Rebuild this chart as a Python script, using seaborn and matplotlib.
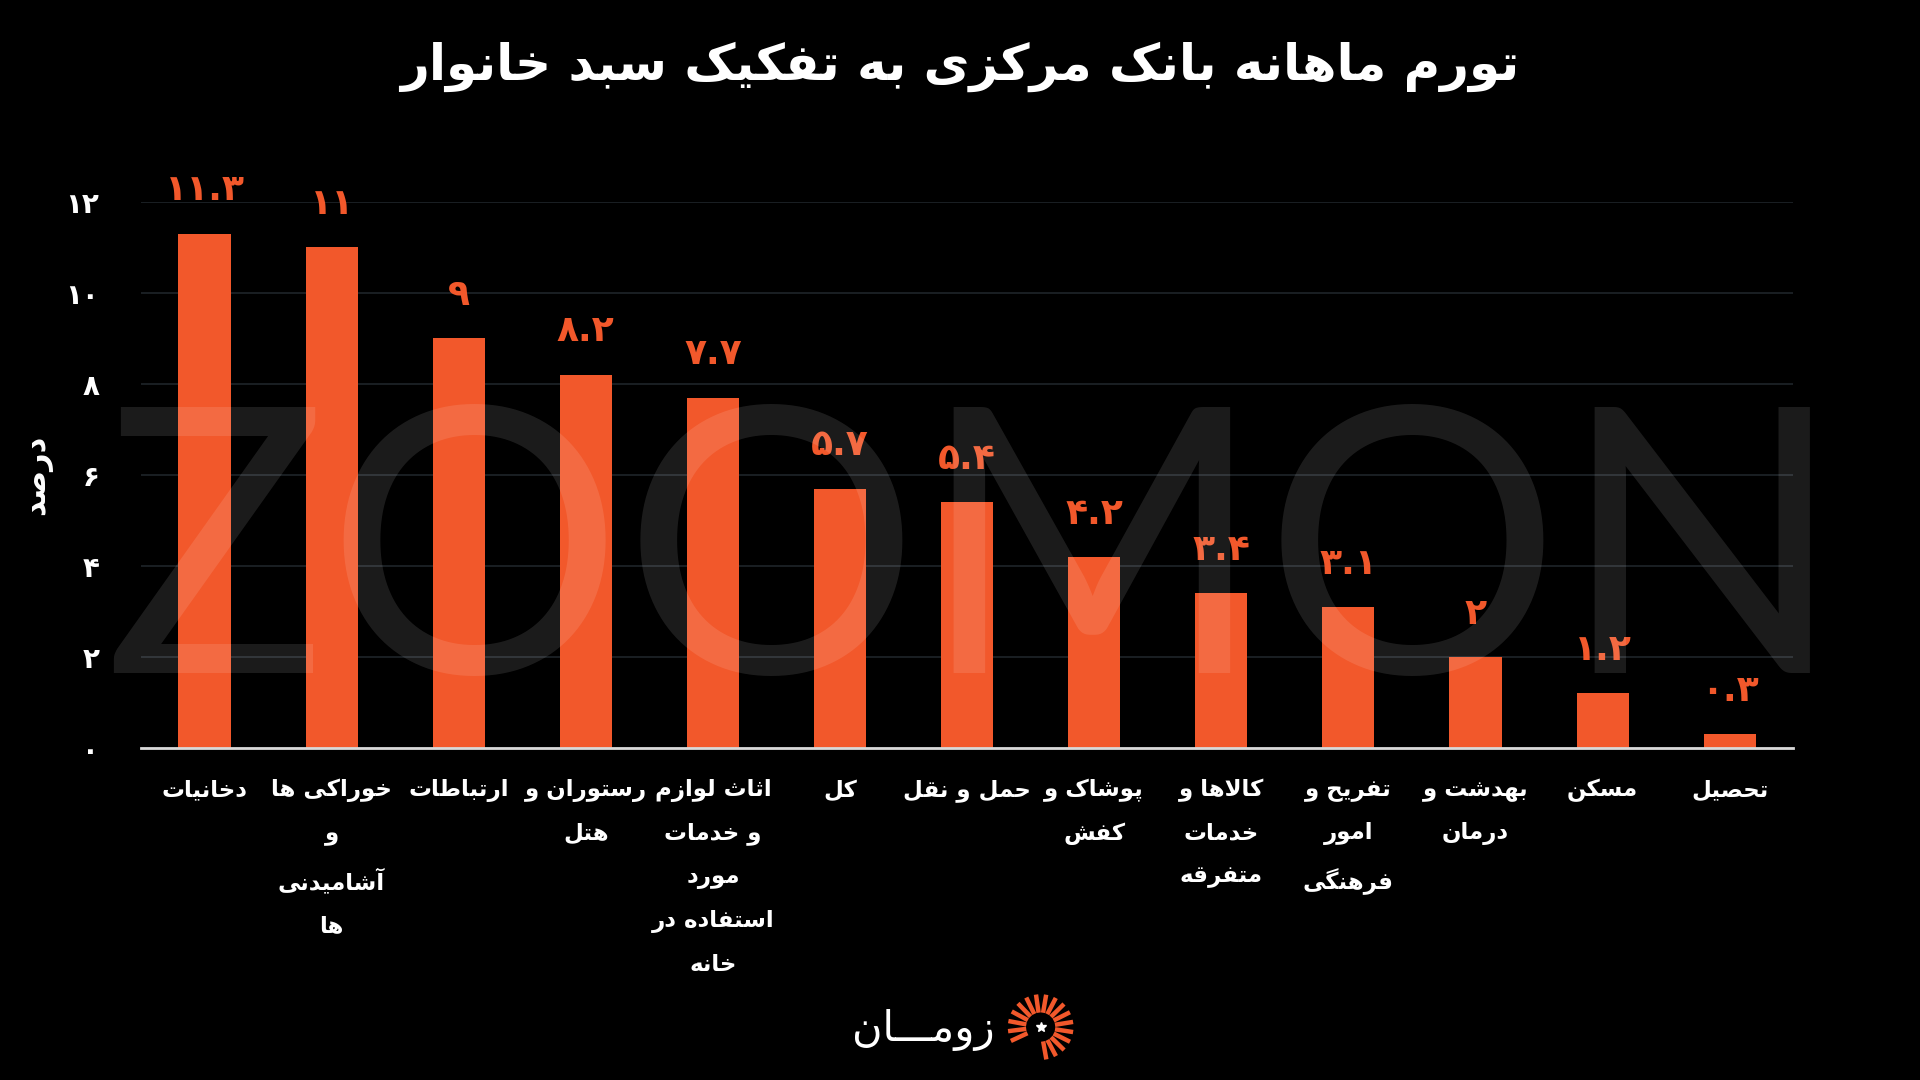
import numpy as np
import pandas as pd
import matplotlib
matplotlib.use("Agg")
import matplotlib.pyplot as plt
import seaborn as sns

# ---------------- data ----------------
categories = [
    "دخانیات",
    "خوراکی ها\nو\nآشامیدنی\nها",
    "ارتباطات",
    "رستوران و\nهتل",
    "اثاث لوازم\nو خدمات\nمورد\nاستفاده در\nخانه",
    "کل",
    "حمل و نقل",
    "پوشاک و\nکفش",
    "کالاها و\nخدمات\nمتفرقه",
    "تفریح و\nامور\nفرهنگی",
    "بهدشت و\nدرمان",
    "مسکن",
    "تحصیل",
]
values = [11.3, 11, 9, 8.2, 7.7, 5.7, 5.4, 4.2, 3.4, 3.1, 2, 1.2, 0.3]
y_ticks = [0, 2, 4, 6, 8, 10, 12]
title_text = "تورم ماهانه بانک مرکزی به تفکیک سبد خانوار"
y_label_text = "درصد"
watermark_text = "ZOOMON"
brand_text = "زومـــان"

BAR_COLOR = "#F2582B"
BG = "#000000"

# ---------------- simple Arabic/Persian shaping ----------------
FORMS = {
    '\u0627': ('\uFE8D', '\uFE8E', None, None),
    '\u0622': ('\uFE81', '\uFE82', None, None),
    '\u0628': ('\uFE8F', '\uFE90', '\uFE91', '\uFE92'),
    '\u067E': ('\uFB56', '\uFB57', '\uFB58', '\uFB59'),
    '\u062A': ('\uFE95', '\uFE96', '\uFE97', '\uFE98'),
    '\u062B': ('\uFE99', '\uFE9A', '\uFE9B', '\uFE9C'),
    '\u062C': ('\uFE9D', '\uFE9E', '\uFE9F', '\uFEA0'),
    '\u0686': ('\uFB7A', '\uFB7B', '\uFB7C', '\uFB7D'),
    '\u062D': ('\uFEA1', '\uFEA2', '\uFEA3', '\uFEA4'),
    '\u062E': ('\uFEA5', '\uFEA6', '\uFEA7', '\uFEA8'),
    '\u062F': ('\uFEA9', '\uFEAA', None, None),
    '\u0630': ('\uFEAB', '\uFEAC', None, None),
    '\u0631': ('\uFEAD', '\uFEAE', None, None),
    '\u0632': ('\uFEAF', '\uFEB0', None, None),
    '\u0698': ('\uFB8A', '\uFB8B', None, None),
    '\u0633': ('\uFEB1', '\uFEB2', '\uFEB3', '\uFEB4'),
    '\u0634': ('\uFEB5', '\uFEB6', '\uFEB7', '\uFEB8'),
    '\u0635': ('\uFEB9', '\uFEBA', '\uFEBB', '\uFEBC'),
    '\u0636': ('\uFEBD', '\uFEBE', '\uFEBF', '\uFEC0'),
    '\u0637': ('\uFEC1', '\uFEC2', '\uFEC3', '\uFEC4'),
    '\u0638': ('\uFEC5', '\uFEC6', '\uFEC7', '\uFEC8'),
    '\u0639': ('\uFEC9', '\uFECA', '\uFECB', '\uFECC'),
    '\u063A': ('\uFECD', '\uFECE', '\uFECF', '\uFED0'),
    '\u0641': ('\uFED1', '\uFED2', '\uFED3', '\uFED4'),
    '\u0642': ('\uFED5', '\uFED6', '\uFED7', '\uFED8'),
    '\u0643': ('\uFED9', '\uFEDA', '\uFEDB', '\uFEDC'),
    '\u06A9': ('\uFB8E', '\uFB8F', '\uFB90', '\uFB91'),
    '\u06AF': ('\uFB92', '\uFB93', '\uFB94', '\uFB95'),
    '\u0644': ('\uFEDD', '\uFEDE', '\uFEDF', '\uFEE0'),
    '\u0645': ('\uFEE1', '\uFEE2', '\uFEE3', '\uFEE4'),
    '\u0646': ('\uFEE5', '\uFEE6', '\uFEE7', '\uFEE8'),
    '\u0647': ('\uFEE9', '\uFEEA', '\uFEEB', '\uFEEC'),
    '\u0648': ('\uFEED', '\uFEEE', None, None),
    '\u064A': ('\uFEF1', '\uFEF2', '\uFEF3', '\uFEF4'),
    '\u06CC': ('\uFBFC', '\uFBFD', '\uFBFE', '\uFBFF'),
    '\u0640': ('\u0640', '\u0640', '\u0640', '\u0640'),
}
LAM_ALEF = {'\u0627': ('\uFEFB', '\uFEFC'), '\u0622': ('\uFEF5', '\uFEF6')}


def _dual(c):
    return c in FORMS and FORMS[c][2] is not None


def shape_line(s):
    chars = list(s)
    n = len(chars)
    res = []
    i = 0
    while i < n:
        c = chars[i]
        if c not in FORMS:
            res.append(c)
            i += 1
            continue
        prev = chars[i - 1] if i > 0 else None
        cp = prev is not None and _dual(prev)
        if c == '\u0644' and i + 1 < n and chars[i + 1] in LAM_ALEF:
            lig = LAM_ALEF[chars[i + 1]]
            res.append(lig[1] if cp else lig[0])
            i += 2
            continue
        nxt = chars[i + 1] if i + 1 < n else None
        cn = _dual(c) and nxt is not None and nxt in FORMS
        f = FORMS[c]
        if cp and cn:
            g = f[3]
        elif cp:
            g = f[1]
        elif cn:
            g = f[2]
        else:
            g = f[0]
        res.append(g)
        i += 1
    return ''.join(reversed(res))


def fa(s):
    return '\n'.join(shape_line(line) for line in s.split('\n'))


FA_DIGITS = str.maketrans('0123456789', '۰۱۲۳۴۵۶۷۸۹')


def fa_num(v):
    return f"{v:g}".translate(FA_DIGITS)


# ---------------- plot ----------------
sns.set_theme(style="dark")
plt.rcParams['font.family'] = ['DejaVu Sans']
plt.rcParams['figure.facecolor'] = BG
plt.rcParams['axes.facecolor'] = BG

fig = plt.figure(figsize=(19.2, 10.8), dpi=100)
fig.patch.set_facecolor(BG)
ax = fig.add_axes([0.0734, 0.3074, 0.8606, 0.5056])
ax.set_facecolor(BG)

df = pd.DataFrame({"cat": [fa(c) for c in categories], "val": values})
sns.barplot(data=df, x="cat", y="val", color=BAR_COLOR, saturation=1,
            width=0.41, linewidth=0, edgecolor=BAR_COLOR, ax=ax, zorder=3)

ax.set_xlim(-0.5, len(values) - 0.5)
ax.set_ylim(0, 12)
ax.set_yticks(y_ticks)
ax.set_yticklabels([fa_num(t) for t in y_ticks], color="white",
                   fontsize=20, fontweight="bold")
ax.tick_params(axis="y", length=0, pad=30)
ax.tick_params(axis="x", length=0, pad=22)
for lbl in ax.get_xticklabels():
    lbl.set_color("white")
    lbl.set_fontsize(16.5)
    lbl.set_fontweight("bold")
    lbl.set_linespacing(2.1)
    lbl.set_verticalalignment("top")

ax.grid(axis="y", color="#1c2226", linewidth=1.3, zorder=0)
ax.grid(axis="x", visible=False)
for side in ["top", "right", "left"]:
    ax.spines[side].set_visible(False)
ax.spines["bottom"].set_color("#d9d9d9")
ax.spines["bottom"].set_linewidth(2)
ax.spines["bottom"].set_zorder(4)

ax.set_xlabel("")
ax.set_ylabel(fa(y_label_text), color="white", fontsize=22, fontweight="bold")
ax.yaxis.set_label_coords(-0.054, 0.5)

ax.bar_label(ax.containers[0], labels=[fa_num(v) for v in values],
             padding=19, color=BAR_COLOR, fontsize=26, fontweight="bold",
             clip_on=False)

fig.text(0.5, 0.938, fa(title_text), color="white", fontsize=36,
         fontweight="bold", ha="center", va="center")

# watermark
fig.text(0.507, 0.377, watermark_text, color="white", alpha=0.11,
         fontsize=267, family="Lato", fontweight="normal",
         ha="center", va="baseline", zorder=10)

# brand
fig.text(0.481, 0.046, fa(brand_text), color="white", fontsize=30,
         ha="center", va="center")
iax = fig.add_axes([0.524, 0.017, 0.036, 0.064])
iax.set_xlim(-1, 1)
iax.set_ylim(-1, 1)
iax.set_aspect("equal")
iax.axis("off")
for ang in np.linspace(-80, 205, 17):
    a = np.deg2rad(ang)
    iax.plot([0.42 * np.cos(a), 0.95 * np.cos(a)],
             [0.42 * np.sin(a), 0.95 * np.sin(a)],
             color=BAR_COLOR, lw=3.2, solid_capstyle="butt")
iax.plot([0], [0], marker="*", color="white", markersize=7)

fig.savefig("out.png", dpi=100, facecolor=BG)
